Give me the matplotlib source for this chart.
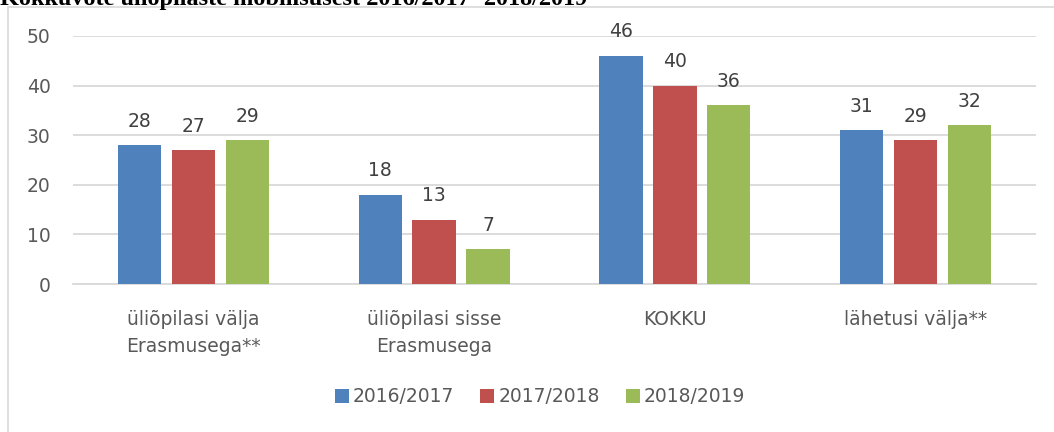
import matplotlib
matplotlib.use("Agg")
import matplotlib.pyplot as plt
from matplotlib.patches import Rectangle
import numpy as np

categories = ["üliõpilasi välja\nErasmusega**", "üliõpilasi sisse\nErasmusega", "KOKKU", "lähetusi välja**"]
series_names = ["2016/2017", "2017/2018", "2018/2019"]
v2016 = [28, 18, 46, 31]
v2017 = [27, 13, 40, 29]
v2018 = [29, 7, 36, 32]
yticks = [0, 10, 20, 30, 40, 50]
title = "Kokkuvõte üliõpilaste mobiilsusest 2016/2017 -2018/2019"

colors = ["#4F81BD", "#C0504D", "#9BBB59"]
W, H = 1054, 432
fig = plt.figure(figsize=(W / 100, H / 100), dpi=100)
fig.patch.set_facecolor("white")

# outer chart frame (right and bottom edges lie outside the picture)
fig.patches.append(Rectangle((8 / W, -0.2), 1.2, 0.2 + 1 - 7 / H, transform=fig.transFigure,
                             fill=False, edgecolor="#D9D9D9", linewidth=1.2, zorder=0))

# title, clipped at the top edge as in the reference
fig.text(0.0, 1 - 5 / H, title, fontsize=17.5, fontweight="bold", family="Liberation Serif",
         color="black", va="baseline", ha="left")

ax = fig.add_axes([73 / W, 148 / H, (1036 - 73) / W, (284 - 36) / H])
font = "DejaVu Sans"
x = np.arange(len(categories))
width = 0.18
step = 0.224
for i, (vals, name) in enumerate(zip([v2016, v2017, v2018], series_names)):
    bars = ax.bar(x + (i - 1) * step, vals, width, color=colors[i], label=name, zorder=3)
    for b, v in zip(bars, vals):
        ax.text(b.get_x() + b.get_width() / 2, v + 2.9, str(v), ha="center", va="bottom",
                fontsize=13.5, color="#404040", family=font)

ax.set_xlim(-0.5, len(categories) - 0.5)
ax.set_ylim(0, 50)
ax.set_yticks(yticks)
ax.yaxis.grid(True, color="#D9D9D9", linewidth=1.3, zorder=0)
ax.set_axisbelow(True)
for s in ["top", "right", "left"]:
    ax.spines[s].set_visible(False)
ax.spines["bottom"].set_color("#D9D9D9")
ax.spines["bottom"].set_linewidth(1.3)
ax.tick_params(axis="both", length=0, labelsize=13.5, labelcolor="#595959")
ax.tick_params(axis="y", pad=16)
ax.tick_params(axis="x", pad=19)
ax.set_xticks(x)
ax.set_xticklabels(categories, family=font, linespacing=1.5)
for lab in ax.get_yticklabels():
    lab.set_family(font)

leg = fig.legend(loc="center", bbox_to_anchor=(540 / W, 1 - 397 / H), ncol=3, frameon=False,
                 prop={"family": font, "size": 13.5}, handlelength=0.75, handleheight=0.75,
                 handletextpad=0.2, columnspacing=1.4)
for t in leg.get_texts():
    t.set_color("#595959")

fig.savefig("out.png", dpi=100)
